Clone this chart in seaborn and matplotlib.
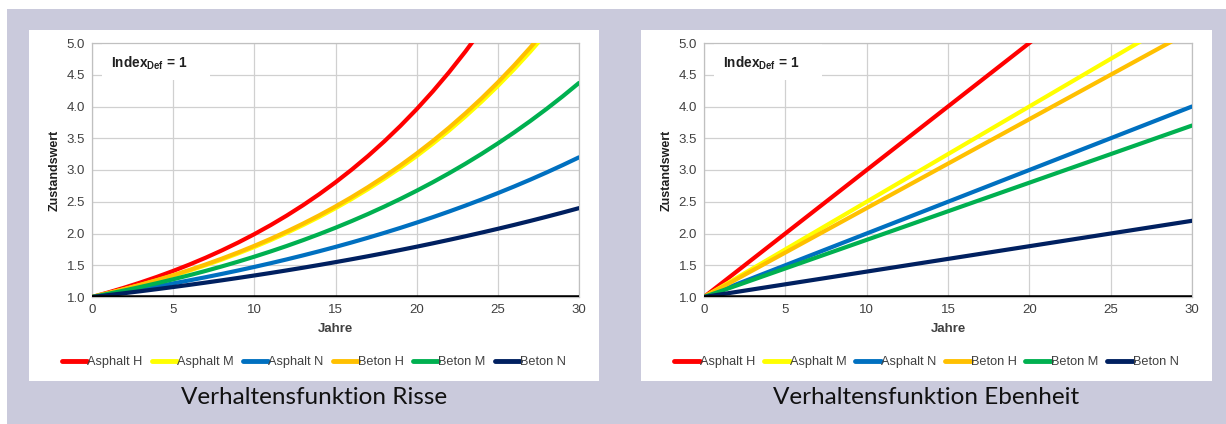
import numpy as np
import pandas as pd
import matplotlib
matplotlib.use("Agg")
import matplotlib.pyplot as plt
from matplotlib.patches import Rectangle
import seaborn as sns

# ---------------- data ----------------
series = ["Asphalt H", "Asphalt M", "Asphalt N", "Beton H", "Beton M", "Beton N"]
colors = ["#FF0000", "#FFFF00", "#0070C0", "#FFC000", "#00B050", "#002060"]

years_risse = list(range(0, 31))
risse_asphalt_h = [1.0000, 1.0712, 1.1475, 1.2292, 1.3167, 1.4105, 1.5109, 1.6185, 1.7338,
                   1.8572, 1.9895, 2.1311, 2.2829, 2.4454, 2.6195, 2.8061, 3.0059, 3.2199,
                   3.4492, 3.6948, 3.9578, 4.2396, 4.5415, 4.8649, 5.2113, 5.5824, 5.9800,
                   6.4060, 6.8620, 7.3500, 7.8740]
risse_asphalt_m = [1.0000, 1.0595, 1.1225, 1.1895, 1.2605, 1.3355, 1.4155, 1.5000, 1.5900,
                   1.6860, 1.7870, 1.8950, 2.0100, 2.1320, 2.2610, 2.3985, 2.5440, 2.6985,
                   2.8620, 3.0360, 3.2200, 3.4155, 3.6230, 3.8430, 4.0765, 4.3240, 4.5865,
                   4.8650, 5.1610, 5.4750, 5.8080]
risse_asphalt_n = [1.0000, 1.0395, 1.0806, 1.1233, 1.1677, 1.2139, 1.2619, 1.3118, 1.3636,
                   1.4175, 1.4736, 1.5318, 1.5924, 1.6553, 1.7207, 1.7888, 1.8595, 1.9330,
                   2.0094, 2.0888, 2.1714, 2.2572, 2.3464, 2.4392, 2.5356, 2.6358, 2.7400,
                   2.8483, 2.9609, 3.0780, 3.1996]
risse_beton_h = [1.0000, 1.0609, 1.1254, 1.1939, 1.2666, 1.3437, 1.4254, 1.5122, 1.6042,
                 1.7018, 1.8054, 1.9153, 2.0318, 2.1555, 2.2867, 2.4258, 2.5735, 2.7301,
                 2.8962, 3.0725, 3.2595, 3.4579, 3.6683, 3.8916, 4.1284, 4.3797, 4.6462,
                 4.9290, 5.2290, 5.5472, 5.8848]
risse_beton_m = [1.0000, 1.0504, 1.1033, 1.1589, 1.2173, 1.2787, 1.3431, 1.4108, 1.4819,
                 1.5566, 1.6350, 1.7174, 1.8040, 1.8949, 1.9904, 2.0907, 2.1961, 2.3067,
                 2.4230, 2.5451, 2.6734, 2.8081, 2.9496, 3.0983, 3.2544, 3.4184, 3.5907,
                 3.7717, 3.9617, 4.1614, 4.3711]
risse_beton_n = [1.0000, 1.0296, 1.0601, 1.0915, 1.1238, 1.1571, 1.1913, 1.2266, 1.2629,
                 1.3003, 1.3388, 1.3784, 1.4192, 1.4612, 1.5045, 1.5490, 1.5949, 1.6421,
                 1.6907, 1.7408, 1.7923, 1.8454, 1.9000, 1.9563, 2.0142, 2.0738, 2.1352,
                 2.1984, 2.2635, 2.3305, 2.3995]

years_eben = [0, 10, 20, 30]
eben_asphalt_h = [1.0, 3.0, 5.0, 7.0]
eben_asphalt_m = [1.0, 2.5, 4.0, 5.5]
eben_asphalt_n = [1.0, 2.0, 3.0, 4.0]
eben_beton_h = [1.0, 2.4, 3.8, 5.2]
eben_beton_m = [1.0, 1.9, 2.8, 3.7]
eben_beton_n = [1.0, 1.4, 1.8, 2.2]

baseline_years = [0, 30]
baseline_values = [1.0, 1.0]

x_ticks = [0, 5, 10, 15, 20, 25, 30]
y_ticks = [1.0, 1.5, 2.0, 2.5, 3.0, 3.5, 4.0, 4.5, 5.0]

titles = ["Verhaltensfunktion Risse", "Verhaltensfunktion Ebenheit"]
x_label = "Jahre"
y_label = "Zustandswert"


def long_df(years, values):
    rows = []
    for name, vals in zip(series, values):
        for x, y in zip(years, vals):
            rows.append({"Jahre": x, "Wert": y, "Serie": name})
    return pd.DataFrame(rows)


df_risse = long_df(years_risse, [risse_asphalt_h, risse_asphalt_m, risse_asphalt_n,
                                 risse_beton_h, risse_beton_m, risse_beton_n])
df_eben = long_df(years_eben, [eben_asphalt_h, eben_asphalt_m, eben_asphalt_n,
                               eben_beton_h, eben_beton_m, eben_beton_n])
df_base = pd.DataFrame({"Jahre": baseline_years, "Wert": baseline_values})

# ---------------- style ----------------
sns.set_theme(style="white")
plt.rcParams["font.family"] = ["Liberation Sans", "DejaVu Sans"]
plt.rcParams["mathtext.fontset"] = "custom"
plt.rcParams["mathtext.bf"] = "Liberation Sans:bold"
plt.rcParams["mathtext.rm"] = "Liberation Sans"

W, H = 1226, 424
fig = plt.figure(figsize=(W / 100, H / 100), dpi=100)
fig.patch.set_facecolor("white")

lav = "#CACADC"
fig.patches.append(Rectangle((7 / W, 0), 1 - 7 / W, 1 - 9 / H, transform=fig.transFigure,
                             facecolor=lav, edgecolor="none", zorder=-3))

panels = [(29, 599), (641, 1212)]
axes_x = [(92, 579), (704, 1192)]
ax_top, ax_bot = 43, 297
panel_top, panel_bot = 30, 381
text_col = "#404040"

palette = dict(zip(series, colors))

for i, (df, (px0, px1), (ax0, ax1)) in enumerate(zip([df_risse, df_eben], panels, axes_x)):
    fig.patches.append(Rectangle((px0 / W, 1 - panel_bot / H), (px1 - px0) / W,
                                 (panel_bot - panel_top) / H, transform=fig.transFigure,
                                 facecolor="white", edgecolor="none", zorder=-2))
    ax = fig.add_axes([ax0 / W, 1 - ax_bot / H, (ax1 - ax0) / W, (ax_bot - ax_top) / H])
    ax.set_facecolor("white")
    sns.lineplot(data=df, x="Jahre", y="Wert", hue="Serie", hue_order=series,
                 palette=palette, linewidth=3.0, ax=ax, legend=True, zorder=3)
    sns.lineplot(data=df_base, x="Jahre", y="Wert", color="black", linewidth=3.3,
                 ax=ax, legend=False, zorder=4)
    ax.set_xlim(0, 30)
    ax.set_ylim(1.0, 5.0)
    ax.set_xticks(x_ticks)
    ax.set_yticks(y_ticks)
    ax.set_xticklabels([str(t) for t in x_ticks])
    ax.set_yticklabels([f"{t:.1f}" for t in y_ticks])
    ax.tick_params(axis="both", length=0, labelsize=9.5, labelcolor=text_col, pad=5)
    ax.grid(True, color="#D0D0D0", linewidth=0.9, zorder=0)
    ax.set_axisbelow(True)
    for s in ax.spines.values():
        s.set_color("#C0C0C0")
        s.set_linewidth(0.9)
    ax.set_xlabel(x_label, fontsize=9.5, fontweight="bold", color=text_col, labelpad=5)
    ax.set_ylabel(y_label, fontsize=9, fontweight="bold", color="#202020", labelpad=4)

    # white box behind annotation
    ax.add_patch(Rectangle((0.62, 4.42), 6.65, 0.58, facecolor="white", edgecolor="none",
                           zorder=1))
    ax.text(1.15, 4.68, r"Index$_{\mathbf{Def}}$ = 1", fontsize=9.8, fontweight="bold",
            color="#202020", va="center", ha="left", zorder=2)

    handles, labels = ax.get_legend_handles_labels()
    ax.get_legend().remove()
    for h in handles:
        h.set_linewidth(3.5)
    cx = (px0 + px1) / 2 / W
    fig.legend(handles, labels, loc="center", bbox_to_anchor=(cx, 1 - 362 / H), ncol=6,
               frameon=False, fontsize=9.2, handlelength=2.0, handletextpad=0.0,
               columnspacing=0.7, labelcolor=text_col)

    fig.text(cx, 1 - 398 / H, titles[i], ha="center", va="center", fontsize=17.5,
             family=["Lato", "DejaVu Sans"], color="#111111")

fig.savefig("out.png", dpi=100, facecolor=fig.get_facecolor())
